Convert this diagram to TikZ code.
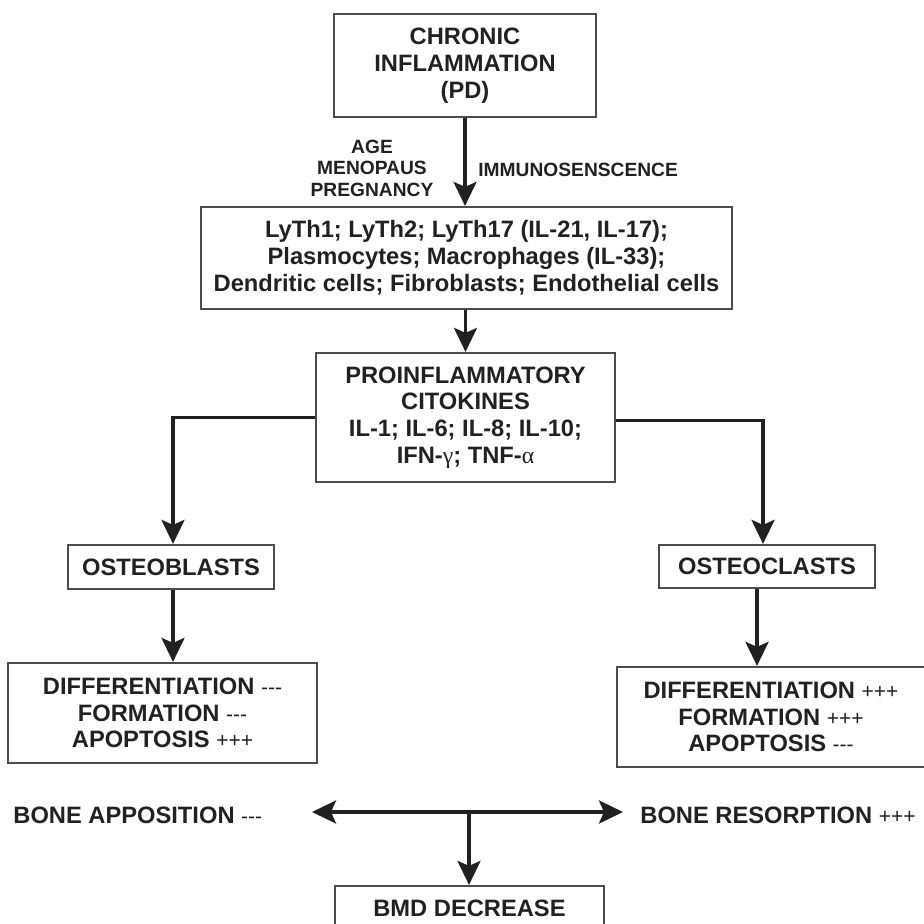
\documentclass[tikz,border=0pt]{standalone}
\usepackage{fontspec}
\setmainfont{Liberation Sans}
\newfontfamily\signfont{Liberation Sans}
\newfontfamily\greekfont{Liberation Serif}
\usetikzlibrary{positioning, arrows.meta}
\definecolor{inkgray}{gray}{0.13}
\definecolor{framegray}{gray}{0.3}
\newcommand{\boxtext}{\fontsize{11.85}{13.4}\selectfont\bfseries}
\newcommand{\sidetext}{\fontsize{9.6}{10.8}\selectfont\bfseries}
\newcommand{\dropmark}{{\signfont\mdseries\fontsize{10.5}{10.5}\selectfont ---}}
\newcommand{\risemark}{{\signfont\mdseries\fontsize{10.5}{10.5}\selectfont +++}}
\newcommand{\grk}[1]{{\greekfont\mdseries #1}}
\tikzset{
    box/.style={rectangle, draw=framegray, line width=1.1pt, text=inkgray, align=center, inner sep=0pt, font=\boxtext},
    side/.style={text=inkgray, align=center, inner sep=0pt, font=\sidetext},
    outcome/.style={text=inkgray, inner sep=0pt, font=\boxtext},
    arrow/.style={line width=1.7pt, draw=inkgray, -{Stealth[length=12pt, width=11.5pt, inset=2.5pt]}},
    twoway/.style={line width=1.7pt, draw=inkgray, {Stealth[length=12pt, width=11.5pt, inset=2.5pt]}-{Stealth[length=12pt, width=11.5pt, inset=2.5pt]}}
}

\begin{document}
\begin{tikzpicture}[x=0.5pt, y=-0.5pt]

    \path[use as bounding box, fill=white] (0,0) rectangle (923,924);

    % Nodes
    \node (chronic) [box, minimum width=131pt, minimum height=51.5pt] at (465,65.5) {CHRONIC\\INFLAMMATION\\(PD)};
    \node (factors) [side] at (372,168) {AGE\\MENOPAUS\\PREGNANCY};
    \node (immuno) [side, anchor=west] at (478,170) {IMMUNOSENSCENCE};
    \node (cells) [box, minimum width=265.5pt, minimum height=51pt] at (466.5,258) {LyTh1; LyTh2; LyTh17 (IL-21, IL-17);\\Plasmocytes; Macrophages (IL-33);\\Dendritic cells; Fibroblasts; Endothelial cells};
    \node (cytokines) [box, minimum width=149.5pt, minimum height=64.5pt] at (465.5,417.5) {PROINFLAMMATORY\\CITOKINES\\IL-1; IL-6; IL-8; IL-10;\\IFN-\grk{γ}; TNF-\grk{α}};
    \node (osteoblasts) [box, minimum width=103pt, minimum height=22pt] at (171,567) {OSTEOBLASTS};
    \node (osteoclasts) [box, minimum width=108pt, minimum height=21.5pt] at (767,566.5) {OSTEOCLASTS};
    \node (blastfate) [box, minimum width=154.5pt, minimum height=50pt] at (162.5,713) {DIFFERENTIATION \dropmark\\FORMATION \dropmark\\APOPTOSIS \risemark};
    \node (clastfate) [box, minimum width=154pt, minimum height=50pt] at (771,717) {DIFFERENTIATION \risemark\\FORMATION \risemark\\APOPTOSIS \dropmark};
    \node (apposition) [outcome, anchor=west] at (13,815) {BONE APPOSITION \dropmark};
    \node (resorption) [outcome, anchor=west] at (640,815) {BONE RESORPTION \risemark};
    \node (bmd) [box, minimum width=134.5pt, minimum height=22pt] at (469.5,908) {BMD DECREASE};
    \coordinate (hub) at (469,812);
    \coordinate (appotip) at (312,812);
    \coordinate (resotip) at (623,812);

    % Arrows
    \draw [arrow] (chronic.south) -- (chronic.south |- cells.north);
    \draw [arrow] (cytokines.north |- cells.south) -- (cytokines.north);
    \draw [arrow] (cytokines.west) -| ([xshift=1pt]osteoblasts.north);
    \draw [arrow] ([yshift=-1.5pt]cytokines.east) -| ([xshift=-2pt]osteoclasts.north);
    \draw [arrow] ([xshift=1pt]osteoblasts.south) -- ([xshift=1pt]osteoblasts.south |- blastfate.north);
    \draw [arrow] ([xshift=-5pt]osteoclasts.south) -- ([xshift=-5pt]osteoclasts.south |- clastfate.north);
    \draw [twoway] (appotip) -- (resotip);
    \draw [arrow] (hub) -- (hub |- bmd.north);

\end{tikzpicture}
\end{document}
